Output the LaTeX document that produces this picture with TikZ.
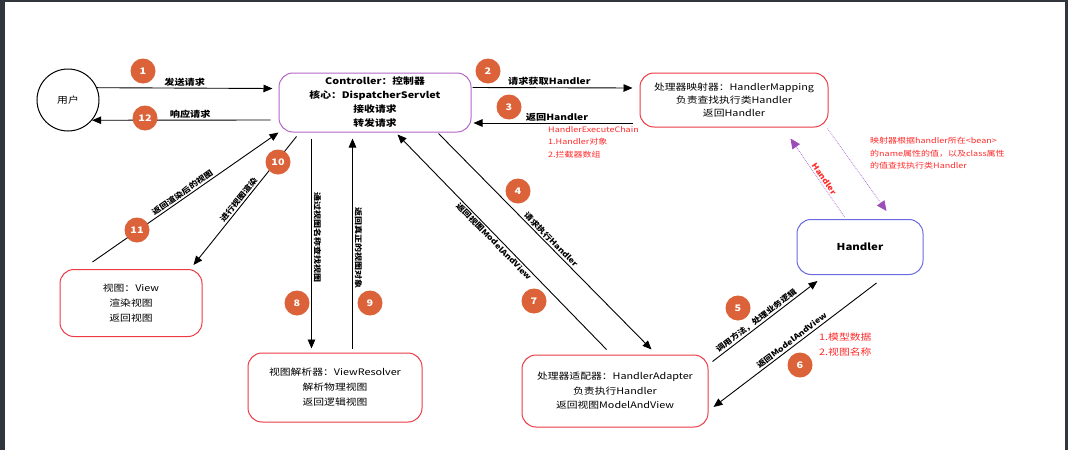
\documentclass[tikz,border=0pt]{standalone}
\usepackage{fontspec}
\setmainfont{Noto Sans CJK SC}[FakeStretch=1.2]
\usepackage{tikz}
\usetikzlibrary{arrows.meta}
\usetikzlibrary{calc}
\usetikzlibrary{positioning}
\definecolor{badgecol}{HTML}{DC6239}
\definecolor{boxred}{HTML}{EC3B44}
\definecolor{boxpurple}{HTML}{B466C8}
\definecolor{boxblue}{HTML}{6A6AE0}
\definecolor{notered}{HTML}{FF2A2A}
\definecolor{framecol}{HTML}{30363B}
\definecolor{dotpurple}{HTML}{B57BD6}
\definecolor{tippurple}{HTML}{9B4DB8}
\tikzset{basic box/.style={draw,
                           rounded corners=14pt,
                           line width=1pt,
                           align=center,
                           inner sep=0pt}}
\tikzset{red box/.style={basic box,draw=boxred}}
\tikzset{edge/.style={draw,
                      line width=0.9pt,
                      -{Triangle[length=9pt,width=7.5pt]}}}
\tikzset{dot edge/.style={draw=dotpurple,
                          densely dotted,
                          line width=0.8pt,
                          -{Triangle[length=10pt,width=9pt,fill=tippurple,color=tippurple]}}}
\newcommand{\BOXFONT}{\fontsize{9}{14}\selectfont}
\newcommand{\LABFONT}{\bfseries\fontsize{8.5}{10}\selectfont}
\newcommand{\SLOPEFONT}{\bfseries\fontsize{7.5}{9}\selectfont}
\newcommand{\NOTEFONT}{\fontsize{7.5}{12.5}\selectfont}

\begin{document}
\begin{tikzpicture}
      [
      x=1pt,y=-1pt,
      my badge/.style={circle,
      fill=badgecol,
      text=white,
      minimum size=25pt,
      inner sep=0pt,
      font=\bfseries\fontsize{9}{9}\selectfont},
      edge label/.style={font=\LABFONT,inner sep=1.5pt},
      slope label/.style={font=\SLOPEFONT,sloped,inner sep=1.5pt},
      red note/.style={text=notered,font=\NOTEFONT,align=left,
      anchor=north west,inner sep=0pt},
      ]

      % frame
      \fill [framecol] (0,0) rectangle (1068,450);
      \fill [white] (5,2) rectangle (1065,450);
      \useasboundingbox (0,0) rectangle (1068,450);

      % vertices
      \node [draw,circle,line width=1pt,minimum size=62pt,inner sep=0pt,
      font=\BOXFONT] (user) at (68,100) {用户};

      \node [basic box,draw=boxpurple,minimum width=192pt,minimum height=59pt,
      font=\bfseries\BOXFONT] (ctrl) at (375,102.5)
      {Controller：控制器\\核心：DispatcherServlet\\接收请求\\转发请求};

      \node [red box,minimum width=188pt,minimum height=54pt,
      font=\fontsize{9}{13}\selectfont] (map) at (734,100)
      {处理器映射器：HandlerMapping\\负责查找执行类Handler\\返回Handler};

      \node [basic box,draw=boxblue,minimum width=126pt,minimum height=55pt,
      font=\bfseries\fontsize{9.5}{12}\selectfont] (handler) at (860,247) {Handler};

      \node [red box,minimum width=142pt,minimum height=67pt,
      font=\fontsize{9}{15}\selectfont] (view) at (131,303)
      {视图：View\\渲染视图\\返回视图};

      \node [red box,minimum width=174pt,minimum height=69pt,
      font=\fontsize{9}{15}\selectfont] (resolver) at (335,387.5)
      {视图解析器：ViewResolver\\解析物理视图\\返回逻辑视图};

      \node [red box,minimum width=186pt,minimum height=72pt,
      font=\fontsize{9}{14.5}\selectfont] (adapter) at (615,391)
      {处理器适配器：HandlerAdapter\\负责执行Handler\\返回视图ModelAndView};

      % edges
      \path [edge] (user.23) -- node [edge label,pos=0.5,above] {发送请求}
      ($(ctrl.west)+(-6,-14)$);

      \path [edge] ($(ctrl.west)+(-8,17.5)$) -- node [edge label,pos=0.45,above] {响应请求}
      (user.-40);

      \path [edge] ($(ctrl.east)+(1,-15)$) -- node [edge label,pos=0.48,above] {请求获取Handler}
      ($(map.west)+(-7,-12)$);

      \path [edge] ($(map.west)+(-7,23)$) -- node [edge label,pos=0.475,above] {返回Handler}
      ($(ctrl.east)+(2,20.5)$);

      \path [edge] ($(view.north west)+(33,-7)$) --
      node [slope label,pos=0.5,above] {返回渲染后的视图} (ctrl.south west);

      \path [edge] ($(ctrl.south west)+(18,4)$) --
      node [slope label,pos=0.52,above] {进行视图渲染} ($(view.north east)+(-9,-4)$);

      \path [edge] ($(ctrl.south west)+(33,6)$) --
      node [font=\SLOPEFONT,pos=0.47,anchor=south,rotate=-90,inner sep=2pt] {通过视图名称查找视图}
      ($(resolver.north west)+(64,-4)$);

      \path [edge] ($(resolver.north west)+(105,-4)$) --
      node [font=\SLOPEFONT,pos=0.48,anchor=south,rotate=-90,inner sep=2pt] {返回真正的视图对象}
      ($(ctrl.south west)+(74,6)$);

      \path [edge] ($(ctrl.south east)+(-33,1)$) --
      node [slope label,pos=0.51,above] {请求执行Handler} ($(adapter.north west)+(130,-5)$);

      \path [edge] ($(adapter.north west)+(85,-5)$) --
      node [slope label,pos=0.52,below] {返回视图ModelAndView} ($(ctrl.south west)+(119,2)$);

      \path [edge] ($(adapter.north east)+(4,7)$) --
      node [slope label,pos=0.45,above] {调用方法，处理业务逻辑} ($(handler.south west)+(21,6)$);

      \path [edge] ($(handler.south west)+(80,8)$) --
      node [slope label,pos=0.5,above] {返回ModelAndView} ($(adapter.east)+(5,16)$);

      % dotted edges
      \path [dot edge] ($(handler.north west)+(48,-2)$) --
      node [slope label,text=notered,pos=0.45,above] {Handler} ($(map.south east)+(-38,11)$);

      \path [dot edge] ($(map.south east)+(-1,1)$) -- ($(handler.north west)+(90,-8)$);

      % notes
      \node [red note] (chain) at (548,126) {HandlerExecuteChain\\1.Handler对象\\2.拦截器数组};
      \node [red note] (lookup) at (870,137)
      {映射器根据handler所在<bean>\\的name属性的值，以及class属性\\的值查找执行类Handler};
      \node [red note,font=\fontsize{9}{15}\selectfont] (result) at (819,333) {1.模型数据\\2.视图名称};

      % badges
      \foreach \n/\x/\y in
      {
      1/143/71, 2/488/71, 3/509/107, 4/518/191, 5/738/308, 6/800/365,
      7/534/301, 8/297/303, 9/370/303, 10/278/162, 11/137/230, 12/145/118
      }
      {
      \node [my badge] (B\n) at (\x,\y) {\n};
      }

    \end{tikzpicture}
\end{document}
